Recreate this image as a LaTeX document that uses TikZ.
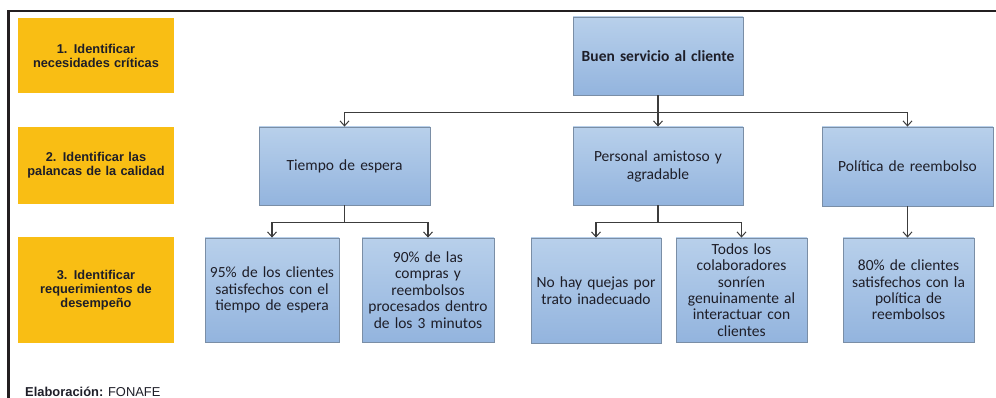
\documentclass[tikz,border=0pt]{standalone}
\usepackage{fontspec}
\setmainfont{Carlito}
\newfontfamily\arialf{Liberation Sans}
\usetikzlibrary{arrows.meta,calc}
\definecolor{gold}{HTML}{F9BE14}
\definecolor{btop}{HTML}{B8D0EB}
\definecolor{bbot}{HTML}{93B4DE}
\definecolor{bedge}{HTML}{7A8EA6}
\definecolor{lin}{HTML}{3C3C3C}
\definecolor{frame}{HTML}{231F20}
\definecolor{txt}{HTML}{1E1E28}
\begin{document}
\begin{tikzpicture}[x=1pt,y=-1pt,
  stepbox/.style={fill=gold, minimum width=156pt, text width=154pt, align=center,
    font=\arialf\bfseries\fontsize{12.8}{14}\selectfont, inner sep=0pt, text=txt},
  bluebox/.style={draw=bedge, line width=0.8pt, top color=btop, bottom color=bbot,
    align=center, inner sep=0pt, font=\fontsize{15.5}{16.4}\selectfont, text=txt},
  conn/.style={draw=lin, line width=1.2pt},
  arr/.style={conn, -{Straight Barb[length=5pt,width=9pt,line width=1pt]}}
]
\useasboundingbox (0,0) rectangle (996,398);
\draw[line width=2.4pt, color=frame] (8.5,398) -- (8.5,11) -- (996,11);

% step labels
\node[stepbox, minimum height=75pt]  (s1) at (96,55.5) {1. Identificar\\necesidades críticas};
\node[stepbox, minimum height=77pt]  (s2) at (96,165.5) {2. Identificar las\\palancas de la calidad};
\node[stepbox, minimum height=106pt] (s3) at (96,290) {3. Identificar\\requerimientos de\\desempeño};

% level 1
\node[bluebox, text width=170pt, minimum height=78pt, font=\fontsize{15.5}{16.4}\selectfont\bfseries] (root) at (658,56) {Buen servicio al cliente};

% level 2
\node[bluebox, text width=171pt, minimum height=78pt] (t) at (344.5,166) {Tiempo de espera};
\node[bluebox, text width=170pt, minimum height=78pt, font=\fontsize{15.5}{18}\selectfont] (p) at (658,166) {Personal amistoso y\\agradable};
\node[bluebox, text width=171pt, minimum height=79pt] (r) at (907.5,166.5) {Política de reembolso};

% level 3
\node[bluebox, text width=134pt, minimum height=104pt] (a1) at (272,290) {95\% de los clientes\\satisfechos con el\\tiempo de espera};
\node[bluebox, text width=132pt, minimum height=104pt] (a2) at (428,290) {90\% de las\\compras y\\reembolsos\\procesados dentro\\de los 3 minutos};
\node[bluebox, text width=130pt, minimum height=105pt] (b1) at (596,290.5) {No hay quejas por\\trato inadecuado};
\node[bluebox, text width=131pt, minimum height=104pt] (b2) at (741.5,290) {Todos los\\colaboradores\\sonríen\\genuinamente al\\interactuar con\\clientes};
\node[bluebox, text width=131pt, minimum height=104pt] (c1) at (908.5,290) {80\% de clientes\\satisfechos con la\\política de\\reembolsos};

% connectors
\coordinate (j1) at ($(root.south)+(0,17)$);
\draw[conn] (root.south) -- (j1);
\draw[arr] (j1) -| (t.north);
\draw[arr] (j1) -- (p.north);
\draw[arr] (j1) -| (r.north);

\coordinate (j2) at ($(t.south)+(0,17)$);
\draw[conn] (t.south) -- (j2);
\draw[arr] (j2) -| (a1.north);
\draw[arr] (j2) -| (a2.north);

\coordinate (j3) at ($(p.south)+(0,17)$);
\draw[conn] (p.south) -- (j3);
\draw[arr] (j3) -| (b1.north);
\draw[arr] (j3) -| (b2.north);

\draw[arr] (r.south) -- (r.south |- c1.north);

% source
\node[anchor=base west, inner sep=0pt, font=\arialf\fontsize{12.9}{14}\selectfont, text=txt] (src) at (25,396.5) {\textbf{Elaboración:} FONAFE};
\end{tikzpicture}
\end{document}
